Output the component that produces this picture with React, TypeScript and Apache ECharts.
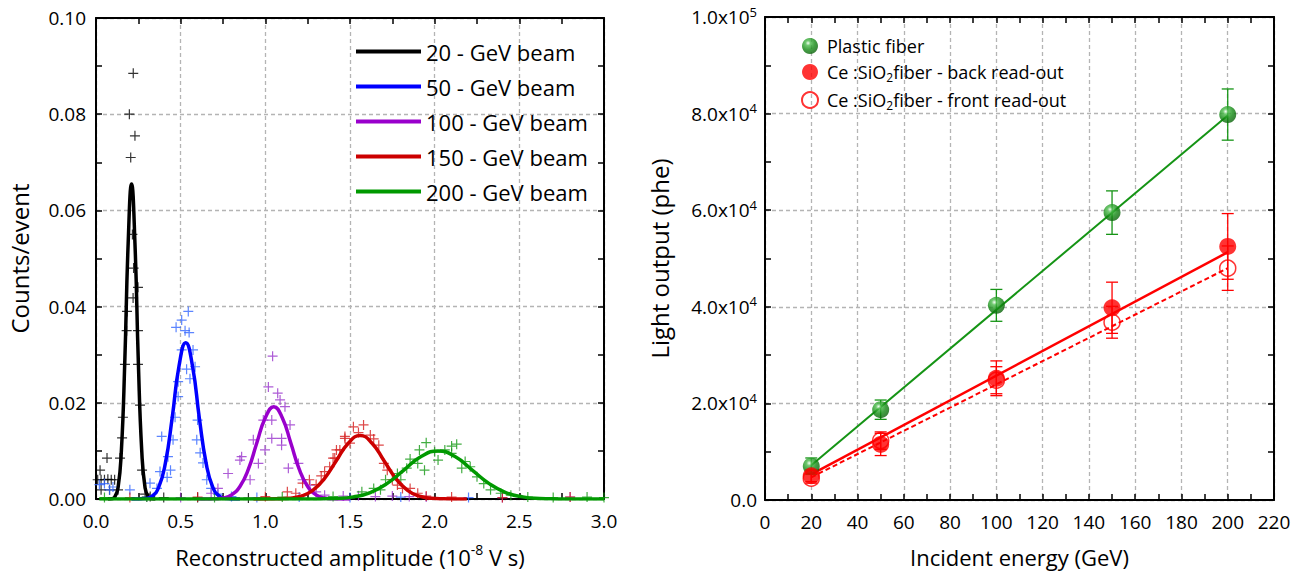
import React, { useEffect, useRef } from "react";
import * as echarts from "echarts";

const FONT = '"Open Sans", "Noto Sans", sans-serif';

// ---------- Left panel data ----------
const beamNames = ["20 - GeV beam", "50 - GeV beam", "100 - GeV beam", "150 - GeV beam", "200 - GeV beam"];
const lineColors = ["#000000", "#0000ff", "#9900cc", "#cc0000", "#009900"];
const pointColors = ["#000000", "#3366ff", "#9933cc", "#d41a1a", "#149914"];

const fit20 = [[0.07,0],[0.09,0.00004],[0.11,0.00036],[0.13,0.0023],[0.15,0.0101],[0.17,0.0285],[0.19,0.0532],[0.21,0.0655],[0.23,0.0532],[0.25,0.0285],[0.27,0.0101],[0.29,0.0023],[0.31,0.00036],[0.33,0.00004],[0.35,0]];
const fit50 = [[0.21,0],[0.25,0],[0.29,0.00009],[0.33,0.00055],[0.37,0.0024],[0.41,0.0075],[0.45,0.0169],[0.49,0.0276],[0.53,0.0325],[0.57,0.0276],[0.61,0.0169],[0.65,0.0075],[0.69,0.0024],[0.73,0.00055],[0.77,0.00009],[0.81,0],[0.85,0]];
const fit100 = [[0.6,0],[0.65,0],[0.70,0.00004],[0.75,0.00021],[0.80,0.00084],[0.85,0.0026],[0.90,0.0062],[0.95,0.0117],[1.00,0.0169],[1.05,0.0192],[1.10,0.0169],[1.15,0.0117],[1.20,0.0062],[1.25,0.0026],[1.30,0.00084],[1.35,0.00021],[1.40,0.00004],[1.45,0],[1.5,0]];
const fit150 = [[0.93,0],[1.00,0],[1.07,0.00003],[1.14,0.00015],[1.21,0.00058],[1.28,0.0018],[1.35,0.0043],[1.42,0.008],[1.49,0.0116],[1.56,0.0132],[1.63,0.0116],[1.70,0.008],[1.77,0.0043],[1.84,0.0018],[1.91,0.00058],[1.98,0.00015],[2.05,0.00003],[2.12,0],[2.19,0]];
const fit200 = [[0.02,0],[0.12,0],[0.22,0],[0.32,0],[0.42,0],[0.52,0],[0.62,0],[0.72,0],[0.82,0],[0.92,0],[1.02,0],[1.12,0],[1.22,0],[1.32,0.00002],[1.42,0.00011],[1.52,0.00044],[1.62,0.00135],[1.72,0.00325],[1.82,0.00607],[1.92,0.00882],[2.02,0.0100],[2.12,0.00882],[2.22,0.00607],[2.32,0.00325],[2.42,0.00135],[2.52,0.00044],[2.62,0.00011],[2.72,0.00002],[2.82,0],[2.92,0],[3.0,0]];

const pts20 = [[0.01,0.0040],[0.03,0.0040],[0.05,0.0040],[0.07,0.0041],[0.09,0.0040],[0.11,0.0040],[0.024,0.0060],[0.065,0.0085],[0.142,0.0085],[0.154,0.0127],[0.159,0.0170],[0.171,0.0280],[0.181,0.0350],[0.183,0.0390],[0.219,0.0418],[0.248,0.0440],[0.248,0.0350],[0.248,0.0280],[0.26,0.0195],[0.272,0.0060],[0.197,0.0800],[0.205,0.0710],[0.22,0.0885],[0.23,0.0755],[0.215,0.0550],[0.222,0.0480],[0.03,0.0019],[0.08,0.0019],[0.13,0.0019],[0.29,0.0010],[0.32,0.0005],[0.4,0.0003],[0.6,0.0003],[0.9,0.0002]];
const pts50 = [[0.545,0.039],[0.506,0.0372],[0.473,0.0357],[0.526,0.035],[0.55,0.0346],[0.506,0.031],[0.573,0.031],[0.535,0.027],[0.585,0.0275],[0.485,0.0244],[0.485,0.0213],[0.555,0.025],[0.467,0.017],[0.6,0.0164],[0.388,0.013],[0.455,0.0123],[0.595,0.0123],[0.425,0.0088],[0.615,0.0096],[0.632,0.0075],[0.378,0.0057],[0.654,0.004],[0.319,0.0033],[0.2,0.0019],[0.08,0.0019],[0.02,0.003],[0.05,0.0032],[0.1,0.0025],[0.42,0.0045],[0.44,0.006],[0.36,0.0022],[0.68,0.0022],[0.72,0.001],[0.8,0.0005],[0.95,0.0003],[1.2,0.0004],[1.5,0.0003],[1.8,0.0004],[2.2,0.0003]];
const pts100 = [[1.043,0.0297],[1.018,0.0233],[1.073,0.022],[1.087,0.0206],[1.116,0.0192],[0.988,0.0164],[1.038,0.0164],[1.146,0.0154],[1.038,0.0126],[1.096,0.0126],[1.096,0.0112],[0.929,0.0123],[0.998,0.0102],[0.86,0.0088],[0.959,0.0074],[1.136,0.0064],[1.195,0.0074],[0.85,0.0081],[0.78,0.0053],[0.91,0.004],[0.72,0.0022],[1.22,0.004],[1.264,0.0029],[0.68,0.0012],[1.3,0.0015],[1.35,0.0008],[1.46,0.0006],[1.55,0.0007],[1.65,0.0005],[1.75,0.0006],[1.85,0.0005],[1.95,0.0004],[0.3,0.0004],[0.5,0.0003],[2.4,0.0003],[2.8,0.0004]];
const pts150 = [[1.52,0.015],[1.58,0.0154],[1.47,0.013],[1.62,0.0133],[1.5,0.0116],[1.67,0.0112],[1.44,0.0102],[1.40,0.0085],[1.70,0.0074],[1.72,0.006],[1.75,0.004],[1.81,0.0022],[1.855,0.0022],[1.78,0.0029],[1.47,0.0126],[1.42,0.0102],[1.41,0.0085],[1.38,0.0067],[1.35,0.0057],[1.26,0.004],[1.22,0.0033],[1.13,0.0015],[1.55,0.0138],[1.64,0.0125],[1.33,0.0048],[1.30,0.003],[1.18,0.0012],[1.9,0.0012],[1.95,0.0006],[0.2,0.0003],[0.6,0.0004],[1.0,0.0005],[2.1,0.0004],[2.4,0.0003],[2.8,0.0004]];
const pts200 = [[1.95,0.0117],[2.13,0.0114],[1.91,0.0102],[1.855,0.0083],[1.9,0.0074],[1.94,0.006],[2.02,0.0081],[2.06,0.0102],[2.10,0.0095],[2.16,0.0064],[2.21,0.0067],[2.25,0.0046],[2.29,0.0032],[2.33,0.0019],[2.39,0.0012],[1.835,0.0064],[1.78,0.0053],[1.80,0.004],[1.71,0.004],[1.64,0.0022],[1.57,0.0015],[1.68,0.0019],[2.1,0.0110],[2.0,0.0098],[2.18,0.0078],[2.45,0.0008],[2.55,0.0004],[0.05,0.0003],[0.3,0.0004],[0.7,0.0003],[1.1,0.0004],[1.4,0.0005],[2.7,0.0003],[2.9,0.0004],[3.0,0.0003]];

const fits = [fit20, fit50, fit100, fit150, fit200];
const pts = [pts20, pts50, pts100, pts150, pts200];

const xTicksLeft = { min: 0, max: 3, interval: 0.5 };
const yTicksLeft = { min: 0, max: 0.1, interval: 0.02 };

// ---------- Right panel data ----------
const energies = [20, 50, 100, 150, 200];
const plastic = [7000, 18700, 40300, 59500, 79800];
const plasticErr = [1700, 2000, 3300, 4500, 5300];
const back = [5000, 11500, 25200, 39800, 52500];
const backErr = [1200, 2300, 3600, 5300, 6800];
const front = [4500, 12300, 24800, 36800, 48000];
const frontErr = [1000, 1800, 2800, 3300, 4600];
const plasticFit = [[20, 7200], [200, 79600]];
const backFit = [[20, 5300], [200, 51300]];
const frontFit = [[20, 4700], [200, 48000]];
const rightNames = ["Plastic fiber", "Ce:SiO2 fiber - back read-out", "Ce:SiO2 fiber - front read-out"];

const PLUS = "path://M4.4,0h1.2v4.4h4.4v1.2h-4.4v4.4h-1.2v-4.4h-4.4v-1.2h4.4z";
const GREEN = "#159415";
const RED = "#ff0000";

function axisBase(extra: any) {
  return {
    type: "value",
    axisLine: { show: true, onZero: false, lineStyle: { color: "#000", width: 2 } },
    axisTick: { show: true, inside: true, length: 6, lineStyle: { color: "#000", width: 1.5 } },
    minorTick: { show: true, splitNumber: 2, length: 6, lineStyle: { color: "#000", width: 1.5 } },
    splitLine: { show: false },
    axisLabel: { show: false },
    ...extra,
  };
}

const gridLine = { show: true, lineStyle: { color: "#b4b4b4", width: 1.3, type: [4, 3] } };
const labelStyle = { color: "#000", fontFamily: FONT, fontSize: 19 };

function sciLabel(v: number) {
  if (v === 0) return "{b|0.0}";
  const e = Math.floor(Math.log10(v) + 1e-9);
  const m = v / Math.pow(10, e);
  return "{b|" + m.toFixed(1) + "x10}{s|" + e + "}";
}

function errorBars(name: string, vals: number[], errs: number[], color: string) {
  return {
    type: "custom",
    name: name + " err",
    xAxisIndex: 2,
    yAxisIndex: 2,
    z: 3,
    data: energies.map((x, i) => [x, vals[i], errs[i]]),
    renderItem: (_p: any, api: any) => {
      const x = api.value(0), y = api.value(1), e = api.value(2);
      const t = api.coord([x, y + e]);
      const b = api.coord([x, y - e]);
      const hw = 6;
      const style = { stroke: color, lineWidth: 1.3, fill: "none" };
      return {
        type: "group",
        children: [
          { type: "line", shape: { x1: t[0], y1: t[1], x2: b[0], y2: b[1] }, style },
          { type: "line", shape: { x1: t[0] - hw, y1: t[1], x2: t[0] + hw, y2: t[1] }, style },
          { type: "line", shape: { x1: b[0] - hw, y1: b[1], x2: b[0] + hw, y2: b[1] }, style },
        ],
      };
    },
  };
}

export default function App() {
  const ref = useRef<HTMLDivElement>(null);
  useEffect(() => {
    if (!ref.current) return;
    const chart = echarts.init(ref.current, null, { renderer: "svg" });

    const leftSeries: any[] = [];
    for (let i = 0; i < 5; i++) {
      leftSeries.push({
        type: "scatter",
        name: beamNames[i] + " data",
        xAxisIndex: 0,
        yAxisIndex: 0,
        symbol: PLUS,
        symbolSize: 10,
        itemStyle: { color: pointColors[i] },
        data: pts[i],
        z: 2,
      });
    }
    for (let i = 0; i < 5; i++) {
      leftSeries.push({
        type: "line",
        name: beamNames[i],
        xAxisIndex: 0,
        yAxisIndex: 0,
        showSymbol: false,
        symbol: "none",
        smooth: 0.5,
        lineStyle: { color: lineColors[i], width: 3.5 },
        itemStyle: { color: lineColors[i] },
        data: fits[i],
        z: 3,
      });
    }

    const sphere = new echarts.graphic.RadialGradient(0.38, 0.32, 0.7, [
      { offset: 0, color: "#f2fff2" },
      { offset: 0.22, color: "#4cbb4c" },
      { offset: 0.6, color: "#138a13" },
      { offset: 1, color: "#0a620a" },
    ]);

    const rightSeries: any[] = [
      { type: "line", name: "plastic fit", xAxisIndex: 2, yAxisIndex: 2, symbol: "none", lineStyle: { color: GREEN, width: 2 }, data: plasticFit, z: 2 },
      { type: "line", name: "back fit", xAxisIndex: 2, yAxisIndex: 2, symbol: "none", lineStyle: { color: RED, width: 2.5 }, data: backFit, z: 2 },
      { type: "line", name: "front fit", xAxisIndex: 2, yAxisIndex: 2, symbol: "none", lineStyle: { color: RED, width: 2, type: [5, 3] }, data: frontFit, z: 2 },
      errorBars("plastic", plastic, plasticErr, GREEN),
      errorBars("back", back, backErr, RED),
      errorBars("front", front, frontErr, RED),
      {
        type: "scatter", name: rightNames[0], xAxisIndex: 2, yAxisIndex: 2, symbol: "circle", symbolSize: 17,
        itemStyle: { color: sphere }, data: energies.map((x, i) => [x, plastic[i]]), z: 5,
      },
      {
        type: "scatter", name: rightNames[1], xAxisIndex: 2, yAxisIndex: 2, symbol: "circle", symbolSize: 17,
        itemStyle: { color: RED }, data: energies.map((x, i) => [x, back[i]]), z: 5,
      },
      {
        type: "scatter", name: rightNames[2], xAxisIndex: 2, yAxisIndex: 2, symbol: "circle", symbolSize: 16,
        itemStyle: { color: "rgba(255,255,255,0)", borderColor: RED, borderWidth: 1.5 }, data: energies.map((x, i) => [x, front[i]]), z: 6,
      },
    ];

    const option: any = {
      animation: false,
      backgroundColor: "#fff",
      textStyle: { fontFamily: FONT },
      grid: [
        { left: 96, top: 18, right: 703, bottom: 75, containLabel: false, outerBoundsMode: "none" },
        { left: 765, top: 17, right: 33, bottom: 74, containLabel: false, outerBoundsMode: "none" },
      ],
      legend: [
        {
          data: beamNames,
          orient: "vertical",
          left: 351,
          top: 34,
          icon: "rect",
          itemWidth: 65,
          itemHeight: 4,
          itemGap: 10,
          selectedMode: false,
          textStyle: { color: "#000", fontFamily: FONT, fontSize: 22, lineHeight: 25 },
        },
        {
          data: rightNames.map((n) => ({ name: n, icon: "circle" })),
          orient: "vertical",
          left: 796,
          top: 32,
          itemWidth: 16,
          itemHeight: 16,
          itemGap: 8,
          selectedMode: false,
          formatter: (n: string) => {
            if (n === rightNames[0]) return "{a|Plastic fiber}";
            if (n === rightNames[1]) return "{a|Ce :SiO}{sub|2}{a|fiber - back read-out}";
            return "{a|Ce :SiO}{sub|2}{a|fiber - front read-out}";
          },
          textStyle: {
            color: "#000",
            fontFamily: FONT,
            fontSize: 18,
            padding: [0, 0, 0, 4],
            rich: {
              a: { fontFamily: FONT, fontSize: 18, lineHeight: 22, color: "#000" },
              sub: { fontFamily: FONT, fontSize: 12, lineHeight: 12, verticalAlign: "bottom", color: "#000" },
            },
          },
        },
      ],
      xAxis: [
        axisBase({
          gridIndex: 0, position: "bottom", ...xTicksLeft,
          splitLine: gridLine,
          axisLabel: { show: true, ...labelStyle, margin: 12, formatter: (v: number) => v.toFixed(1) },
          name: "{a|Reconstructed amplitude (10}{s|-8}{a| V s)}",
          nameLocation: "middle",
          nameGap: 43,
          nameTextStyle: {
            rich: {
              a: { fontFamily: FONT, fontSize: 22, lineHeight: 30, color: "#000" },
              s: { fontFamily: FONT, fontSize: 14, lineHeight: 18, verticalAlign: "top", color: "#000" },
            },
          },
        }),
        axisBase({ gridIndex: 0, position: "top", ...xTicksLeft }),
        axisBase({
          gridIndex: 1, position: "bottom", min: 0, max: 220, interval: 20,
          splitLine: gridLine,
          axisLabel: { show: true, ...labelStyle, margin: 12 },
          name: "Incident energy (GeV)",
          nameLocation: "middle",
          nameGap: 42,
          nameTextStyle: { fontFamily: FONT, fontSize: 22, lineHeight: 30, color: "#000" },
        }),
        axisBase({ gridIndex: 1, position: "top", min: 0, max: 220, interval: 20 }),
      ],
      yAxis: [
        axisBase({
          gridIndex: 0, position: "left", ...yTicksLeft,
          splitLine: gridLine,
          axisLabel: { show: true, ...labelStyle, margin: 10, formatter: (v: number) => v.toFixed(2) },
          name: "Counts/event",
          nameLocation: "middle",
          nameGap: 65,
          nameTextStyle: { fontFamily: FONT, fontSize: 24, color: "#000" },
        }),
        axisBase({ gridIndex: 0, position: "right", ...yTicksLeft }),
        axisBase({
          gridIndex: 1, position: "left", min: 0, max: 100000, interval: 20000,
          splitLine: gridLine,
          axisLabel: {
            show: true, margin: 8, formatter: sciLabel,
            rich: {
              b: { fontFamily: FONT, fontSize: 19, lineHeight: 24, color: "#000" },
              s: { fontFamily: FONT, fontSize: 13, lineHeight: 14, verticalAlign: "top", color: "#000" },
            },
          },
          name: "Light output (phe)",
          nameLocation: "middle",
          nameGap: 94,
          nameTextStyle: { fontFamily: FONT, fontSize: 24, color: "#000" },
        }),
        axisBase({ gridIndex: 1, position: "right", min: 0, max: 100000, interval: 20000 }),
      ],
      series: [...leftSeries, ...rightSeries],
    };
    chart.setOption(option);
    return () => chart.dispose();
  }, []);

  return (
    <div
      ref={ref}
      style={{ position: "fixed", left: 0, top: 0, width: 1307, height: 574, background: "#fff" }}
    />
  );
}
